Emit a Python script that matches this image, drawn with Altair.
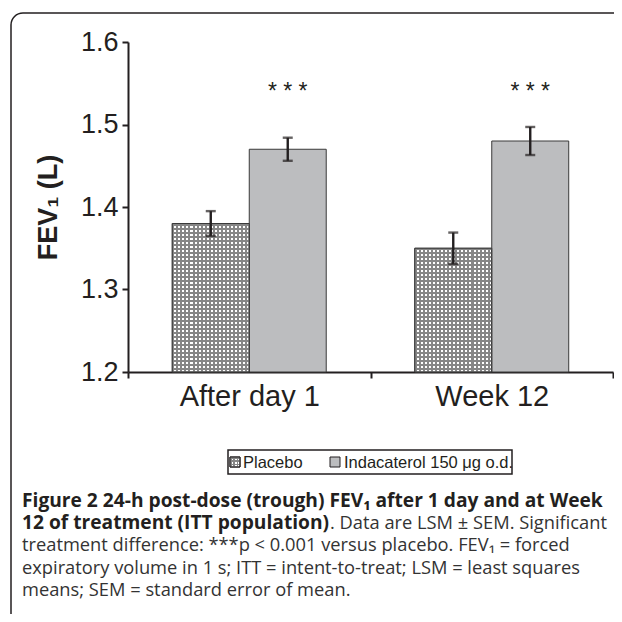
import altair as alt
import pandas as pd

# ---- data ----
timepoints = ["After day 1", "Week 12"]
treatments = ["Placebo", "Indacaterol 150 \u03bcg o.d."]
placebo_mean = [1.38, 1.35]
placebo_sem = [0.015, 0.019]
inda_mean = [1.47, 1.48]
inda_sem = [0.014, 0.017]
star_level = [1.539, 1.539]
star_label = "* * *"
y_ticks = [1.2, 1.3, 1.4, 1.5, 1.6]
y_domain = [1.2, 1.6]
y_title = "FEV\u2081 (L)"

caption_lines = [
    ("Figure 2 24-h post-dose (trough) FEV\u2081 after 1 day and at Week", "bold"),
    ("12 of treatment (ITT population)", "bold"),
    (". Data are LSM \u00b1 SEM. Significant", "normal"),
    ("treatment difference: ***p < 0.001 versus placebo. FEV\u2081 = forced", "normal"),
    ("expiratory volume in 1 s; ITT = intent-to-treat; LSM = least squares", "normal"),
    ("means; SEM = standard error of mean.", "normal"),
]

rows = []
for i, tp in enumerate(timepoints):
    rows.append(dict(time=tp, treat=treatments[0], mean=placebo_mean[i],
                     lo=placebo_mean[i] - placebo_sem[i], hi=placebo_mean[i] + placebo_sem[i],
                     base=y_domain[0], star=None, stext=""))
    rows.append(dict(time=tp, treat=treatments[1], mean=inda_mean[i],
                     lo=inda_mean[i] - inda_sem[i], hi=inda_mean[i] + inda_sem[i],
                     base=y_domain[0], star=star_level[i], stext=star_label))
df = pd.DataFrame(rows)

INK = "#231f20"
FONT = "Liberation Sans"


def stripes(n, duty, color, vertical):
    stops = []
    for k in range(n):
        a = k / n
        b = (k + duty) / n
        c = (k + 1) / n
        stops += [alt.GradientStop(offset=a, color=color),
                  alt.GradientStop(offset=b, color=color),
                  alt.GradientStop(offset=b, color="rgba(255,255,255,0)"),
                  alt.GradientStop(offset=c, color="rgba(255,255,255,0)")]
    if vertical:
        return alt.LinearGradient(gradient="linear", stops=stops, x1=0, y1=0, x2=0, y2=1)
    return alt.LinearGradient(gradient="linear", stops=stops, x1=0, y1=0, x2=1, y2=0)


HATCH = "#868686"
DUTY = 0.5

x_enc = alt.X("time:N", sort=timepoints,
              scale=alt.Scale(paddingInner=0, paddingOuter=0),
              axis=alt.Axis(title=None, labelAngle=0, tickBand="extent",
                            labelFontSize=29, labelFont=FONT, labelColor=INK,
                            labelPadding=4, domainColor=INK, domainWidth=2,
                            tickColor=INK, tickWidth=2, tickSize=6))
xo_enc = alt.XOffset("treat:N", sort=treatments,
                     scale=alt.Scale(paddingOuter=0.575, paddingInner=0))
y_scale = alt.Scale(domain=y_domain, nice=False, zero=False)
y_axis = alt.Axis(values=y_ticks, format=".1f", title=y_title,
                  labelFontSize=27, labelFont=FONT, labelColor=INK,
                  labelPadding=4, domainColor=INK, domainWidth=2,
                  tickColor=INK, tickWidth=2, tickSize=6, grid=False,
                  titleFont=FONT, titleFontSize=27, titleFontWeight="bold",
                  titleColor=INK, titleAngle=270, titleX=-72, titleY=165,
                  titleAlign="center", titleBaseline="alphabetic")


def Y(field):
    return alt.Y(field, scale=y_scale, axis=y_axis, title=y_title)


base = alt.Chart(df).encode(x=x_enc, xOffset=xo_enc)

bars = base.mark_bar(stroke="#3a3a3a", strokeWidth=1).encode(
    y=Y("mean:Q"),
    y2=alt.Y2("base:Q"),
    color=alt.Color("treat:N", sort=treatments,
                    scale=alt.Scale(domain=treatments, range=["#ffffff", "#bcbdbf"]),
                    legend=None),
)

# hatch overlays for the placebo bars (period ~4 px per bar)
hatch_layers = []
for tp, nv in zip(timepoints, [37, 31]):
    sub = base.transform_filter(
        (alt.datum.treat == treatments[0]) & (alt.datum.time == tp))
    hatch_layers.append(sub.mark_bar(fill=stripes(19, DUTY, HATCH, False), strokeWidth=0).encode(
        y=Y("mean:Q"), y2=alt.Y2("base:Q")))
    hatch_layers.append(sub.mark_bar(fill=stripes(nv, DUTY, HATCH, True),
                                     stroke="#3a3a3a", strokeWidth=1).encode(
        y=Y("mean:Q"), y2=alt.Y2("base:Q")))

err = base.mark_rule(color=INK, strokeWidth=2.4).encode(
    y=Y("lo:Q"), y2=alt.Y2("hi:Q"))
cap_lo = base.mark_tick(color=INK, thickness=2.4, size=10).encode(y=Y("lo:Q"))
cap_hi = base.mark_tick(color=INK, thickness=2.4, size=10).encode(y=Y("hi:Q"))

stars = base.transform_filter(alt.datum.treat == treatments[1]).mark_text(
    font=FONT, fontSize=23, color=INK, baseline="middle", align="center").encode(
    y=Y("star:Q"), text="stext:N")

one = pd.DataFrame({"k": [0]})

# frame around the figure (rounded top-left corner)
frame = alt.Chart(one).mark_rect(fill="transparent", stroke=INK, strokeWidth=1.5,
                                 cornerRadiusTopLeft=12).encode(
    x=alt.value(-117), x2=alt.value(520), y=alt.value(-29), y2=alt.value(640))

# legend
leg_box = alt.Chart(one).mark_rect(fill="transparent", stroke=INK, strokeWidth=1.5).encode(
    x=alt.value(100), x2=alt.value(384), y=alt.value(408), y2=alt.value(432))
sw1 = alt.Chart(one).mark_rect(fill="#ffffff", stroke=INK, strokeWidth=1).encode(
    x=alt.value(102), x2=alt.value(112), y=alt.value(415), y2=alt.value(425))
sw1v = alt.Chart(one).mark_rect(fill=stripes(3, DUTY, HATCH, False), strokeWidth=0).encode(
    x=alt.value(102), x2=alt.value(112), y=alt.value(415), y2=alt.value(425))
sw1h = alt.Chart(one).mark_rect(fill=stripes(3, DUTY, HATCH, True), stroke=INK, strokeWidth=1).encode(
    x=alt.value(102), x2=alt.value(112), y=alt.value(415), y2=alt.value(425))
sw2 = alt.Chart(one).mark_rect(fill="#bcbdbf", stroke=INK, strokeWidth=1).encode(
    x=alt.value(202), x2=alt.value(212), y=alt.value(415), y2=alt.value(425))
lt1 = alt.Chart(one).mark_text(font=FONT, fontSize=16.5, color=INK, align="left", baseline="middle").encode(
    x=alt.value(115), y=alt.value(421), text=alt.value(treatments[0]))
lt2 = alt.Chart(one).mark_text(font=FONT, fontSize=16.5, color=INK, align="left", baseline="middle").encode(
    x=alt.value(216), y=alt.value(421), text=alt.value(treatments[1]))

# caption
CAP = "Open Sans"
cap_layers = []
cap_pos = [(-106, 465), (-106, 487), (202, 487), (-106, 509), (-106, 532), (-106, 554)]
for (txt, wt), (cx, cy) in zip(caption_lines, cap_pos):
    bold = wt == "bold"
    cap_layers.append(
        alt.Chart(one).mark_text(font=CAP, fontSize=19.2 if bold else 18.3, fontWeight=wt,
                                 color=INK if bold else "#333333",
                                 align="left", baseline="alphabetic").encode(
            x=alt.value(cx), y=alt.value(cy), text=alt.value(txt)))

chart = alt.layer(
    bars, *hatch_layers, err, cap_lo, cap_hi, stars,
    frame, leg_box, sw1, sw1v, sw1h, sw2, lt1, lt2, *cap_layers
).properties(
    width=485, height=330,
    autosize=alt.AutoSizeParams(type="none"),
    padding={"left": 120, "top": 34, "right": 1, "bottom": 242},
    background="white",
).configure_view(stroke=None)

chart.save("out.html", embed_options={"renderer": "svg", "actions": False})
